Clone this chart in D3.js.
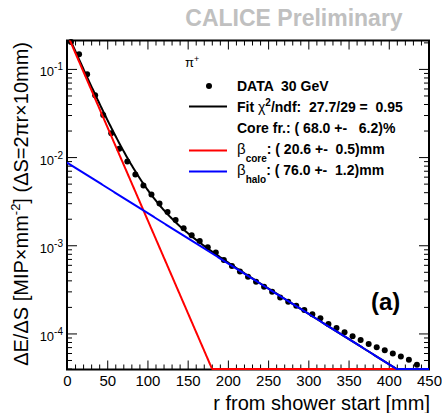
<!DOCTYPE html>
<html>
<head>
<meta charset="utf-8">
<script src="https://cdn.jsdelivr.net/npm/d3@7"></script>
<style>
  body { margin: 0; background: #fff; }
  svg { display: block; font-family: "Liberation Sans", Arial, Helvetica, sans-serif; }
  text { white-space: pre; }
</style>
</head>
<body>
<svg id="chart" width="442" height="413"></svg>
<script>
// Radial energy profile of a 30 GeV pi+ shower, measured from the shower start
const radius = [5, 15, 25, 35, 45, 55, 65, 75, 85, 95, 105, 115, 125, 135, 145, 155,
  165, 175, 185, 195, 205, 215, 225, 235, 245, 255, 265, 275, 285, 295, 305, 315,
  325, 335, 345, 355, 365, 375, 385, 395, 405, 415, 425, 435];
const energyDensity = [0.202, 0.147, 0.0871, 0.0504, 0.0300, 0.0186, 0.0124, 0.00889,
  0.00634, 0.00477, 0.00377, 0.00298, 0.00238, 0.00193, 0.00156, 0.00130,
  0.00112, 0.000949, 0.000827, 0.000682, 0.000583, 0.000504, 0.000439, 0.000385,
  0.000338, 0.000297, 0.000256, 0.000229, 0.000206, 0.000185, 0.000165, 0.000149,
  0.000128, 0.000115, 0.000103, 0.0000930, 0.0000840, 0.0000761, 0.0000695, 0.0000643,
  0.0000594, 0.0000549, 0.0000502, 0.0000441];

// Two-component exponential fit parameters
const fitNorm = 156.5;
const coreFraction = 0.680;
const betaCore = 20.6;
const betaHalo = 76.0;

const xTicks = [0, 50, 100, 150, 200, 250, 300, 350, 400, 450];
const yTicks = [1e-4, 1e-3, 1e-2, 1e-1];
const yTickExponents = ["-4", "-3", "-2", "-1"];

const xDomain = [0, 450];
const yDomain = [3.9e-5, 0.21];

const svg = d3.select("#chart");
const plotLeft = 67, plotRight = 429, plotTop = 40.5, plotBottom = 369.5;

const x = d3.scaleLinear().domain(xDomain).range([plotLeft, plotRight]);
const y = d3.scaleLog().domain(yDomain).range([plotBottom, plotTop]);

// Header
svg.append("text")
  .attr("x", 294).attr("y", 26)
  .attr("text-anchor", "middle")
  .attr("font-size", 23).attr("font-weight", "bold")
  .attr("fill", "#c0c0c0")
  .text("CALICE Preliminary");

// Minor tick values
const xMinor = d3.range(0, 451, 10).filter(v => v % 50 !== 0);
const yMinor = [];
for (let e = -5; e <= -1; e++) {
  for (let m = 2; m <= 9; m++) {
    const v = m * Math.pow(10, e);
    if (v >= yDomain[0] && v <= yDomain[1]) yMinor.push(v);
  }
}

function tickAxis(axis, transform) {
  const g = svg.append("g").attr("transform", transform).call(axis);
  g.select(".domain").remove();
  g.selectAll(".tick line").attr("stroke", "#000").attr("stroke-width", 1);
  return g;
}

// Bottom axis with labels
const gx = tickAxis(d3.axisBottom(x).tickValues(xTicks).tickSizeInner(-9).tickSizeOuter(0)
  .tickPadding(6).tickFormat(d3.format("d")), `translate(0,${plotBottom})`);
gx.selectAll(".tick text").attr("font-size", 15).attr("fill", "#000")
  .attr("font-family", "'Liberation Sans', Arial, sans-serif");
tickAxis(d3.axisBottom(x).tickValues(xMinor).tickSizeInner(-5).tickSizeOuter(0).tickFormat(""),
  `translate(0,${plotBottom})`);
// Top axis ticks
tickAxis(d3.axisTop(x).tickValues(xTicks).tickSizeInner(-9).tickSizeOuter(0).tickFormat(""),
  `translate(0,${plotTop})`);
tickAxis(d3.axisTop(x).tickValues(xMinor).tickSizeInner(-5).tickSizeOuter(0).tickFormat(""),
  `translate(0,${plotTop})`);
// Left and right axis ticks
tickAxis(d3.axisLeft(y).tickValues(yTicks).tickSizeInner(-10).tickSizeOuter(0).tickFormat(""),
  `translate(${plotLeft},0)`);
tickAxis(d3.axisLeft(y).tickValues(yMinor).tickSizeInner(-5).tickSizeOuter(0).tickFormat(""),
  `translate(${plotLeft},0)`);
tickAxis(d3.axisRight(y).tickValues(yTicks).tickSizeInner(-10).tickSizeOuter(0).tickFormat(""),
  `translate(${plotRight},0)`);
tickAxis(d3.axisRight(y).tickValues(yMinor).tickSizeInner(-5).tickSizeOuter(0).tickFormat(""),
  `translate(${plotRight},0)`);

// Log-axis labels as powers of ten
const yLab = svg.append("g").selectAll("text").data(yTicks).join("text")
  .attr("x", 63).attr("y", d => y(d) + 7.5)
  .attr("text-anchor", "end").attr("font-size", 13);
yLab.append("tspan").text("10");
yLab.append("tspan").attr("font-size", 10).attr("dy", -6)
  .text((d, i) => yTickExponents[i]);

// Frame
svg.append("rect")
  .attr("x", plotLeft).attr("y", plotTop)
  .attr("width", plotRight - plotLeft).attr("height", plotBottom - plotTop)
  .attr("fill", "none").attr("stroke", "#000").attr("stroke-width", 2);

// Axis titles
svg.append("text")
  .attr("x", 430).attr("y", 410)
  .attr("text-anchor", "end").attr("font-size", 20)
  .text("r from shower start [mm]");

const yTitle = svg.append("text")
  .attr("transform", "translate(28,42) rotate(-90)")
  .attr("text-anchor", "end").attr("font-size", 20);
yTitle.append("tspan").text("ΔE/ΔS [MIP×mm");
yTitle.append("tspan").attr("font-size", 13).attr("dy", -8).text("-2");
yTitle.append("tspan").attr("dy", 8).text("] (ΔS=2πr×10mm)");

// Plot-area clip (slightly below the frame so floor-clamped curves stay visible)
svg.append("clipPath").attr("id", "plotClip")
  .append("rect").attr("x", plotLeft).attr("y", plotTop)
  .attr("width", plotRight - plotLeft).attr("height", plotBottom - plotTop + 1);

// Data points
svg.append("g").selectAll("circle").data(radius).join("circle")
  .attr("cx", d => x(d))
  .attr("cy", (d, i) => y(energyDensity[i]))
  .attr("r", 3).attr("fill", "#000");

// Fit components
const core = r => fitNorm * coreFraction / (betaCore * betaCore) * Math.exp(-r / betaCore);
const halo = r => fitNorm * (1 - coreFraction) / (betaHalo * betaHalo) * Math.exp(-r / betaHalo);
const total = r => core(r) + halo(r);
const rSamples = d3.range(xDomain[0], xDomain[1] + 0.5, 1);

// Values under the axis minimum are drawn along the floor of the frame
const line = f => d3.line()
  .x(r => x(r))
  .y(r => Math.min(y(Math.max(f(r), yDomain[0])), plotBottom - 0.5))(rSamples);

const curves = svg.append("g").attr("clip-path", "url(#plotClip)");
[[total, "#000"], [core, "#ff0000"], [halo, "#0000ff"]].forEach(([f, c]) => {
  curves.append("path").attr("d", line(f))
    .attr("fill", "none").attr("stroke", c).attr("stroke-width", 2);
});

// Legend
const lg = svg.append("g").attr("font-size", 14).attr("font-weight", "bold");
const pi = lg.append("text").attr("x", 185).attr("y", 67).attr("font-weight", "normal").attr("font-size", 13);
pi.append("tspan").text("π");
pi.append("tspan").attr("font-size", 9).attr("dy", -5).text("+");

lg.append("circle").attr("cx", 209).attr("cy", 86).attr("r", 3).attr("fill", "#000");
lg.append("text").attr("x", 237).attr("y", 90.5).text("DATA  30 GeV");

lg.append("line").attr("x1", 189).attr("x2", 227).attr("y1", 106.5).attr("y2", 106.5)
  .attr("stroke", "#000").attr("stroke-width", 2);
const fitText = lg.append("text").attr("x", 237).attr("y", 111.5);
fitText.append("tspan").text("Fit ");
fitText.append("tspan").attr("font-weight", "normal").text("χ");
fitText.append("tspan").attr("font-size", 10).attr("dy", -6).text("2");
fitText.append("tspan").attr("dy", 6).text("/ndf:  27.7/29 =  0.95");

lg.append("text").attr("x", 237).attr("y", 132.5).text("Core fr.: ( 68.0 +-   6.2)%");

function betaEntry(yLine, color, sub, rest) {
  lg.append("line").attr("x1", 189).attr("x2", 227).attr("y1", yLine).attr("y2", yLine)
    .attr("stroke", color).attr("stroke-width", 2);
  const t = lg.append("text").attr("x", 237).attr("y", yLine + 3);
  t.append("tspan").attr("font-weight", "normal").attr("font-size", 15).text("β");
  t.append("tspan").attr("font-size", 10).attr("dy", 8).text(sub);
  t.append("tspan").attr("dy", -8).text(rest);
}
betaEntry(150.5, "#ff0000", "core", ": ( 20.6 +-  0.5)mm");
betaEntry(171.5, "#0000ff", "halo", ": ( 76.0 +-  1.2)mm");

// Panel label
svg.append("text").attr("x", 371).attr("y", 310)
  .attr("font-size", 24).attr("font-weight", "bold").text("(a)");
</script>
</body>
</html>
